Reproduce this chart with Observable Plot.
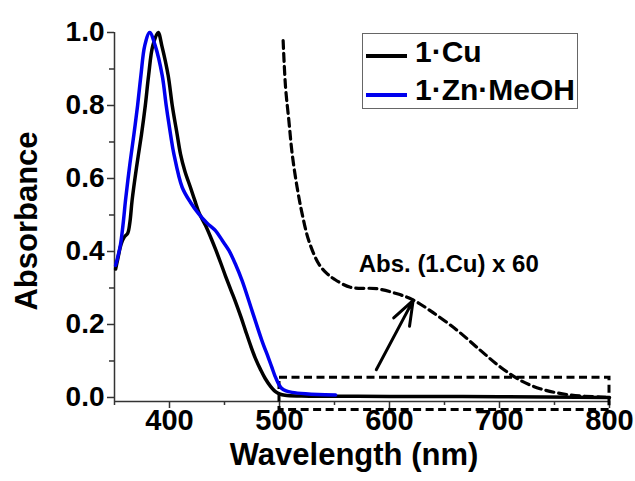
<!DOCTYPE html>
<html>
<head>
<meta charset="utf-8">
<script src="https://cdn.jsdelivr.net/npm/d3@7"></script>
<script src="https://cdn.jsdelivr.net/npm/@observablehq/plot@0.6"></script>
<style>
  html, body { margin: 0; padding: 0; background: #fff; }
  #chart { position: relative; width: 635px; height: 481px; font-family: "Liberation Sans", Arial, sans-serif; }
  #legend { position: absolute; left: 362px; top: 33px; width: 216px; height: 76px; border: 1px solid #666; box-sizing: border-box; }
  #legend .sw { position: absolute; left: 3px; width: 41px; height: 3.5px; }
  #legend .lb { position: absolute; left: 52px; font-size: 30px; font-weight: bold; line-height: 30px; white-space: nowrap; color: #000; }
</style>
</head>
<body>
<div id="chart"></div>
<script>
// ---- data ----
const cuWavelength = [351,353,356,359,362,364,366,370,374.5,378,381,384.8,389.7,393,398.8,402.5,407,410,414,419,423,427,433,438,442,447,451,456,460,465,469,474,478,483,487,492,496,500,505,520,600,700,800];
const cuAbs        = [0.352,0.38,0.42,0.44,0.45,0.48,0.54,0.63,0.72,0.80,0.882,0.964,1.0,0.964,0.882,0.80,0.72,0.667,0.62,0.576,0.54,0.505,0.47,0.435,0.405,0.365,0.332,0.293,0.262,0.22,0.184,0.14,0.108,0.075,0.052,0.03,0.017,0.01,0.006,0.004,0.003,0.002,0.0];

const znWavelength = [351,353,355.5,358,360,364,367.6,371,374,377.5,382,387,393.4,397,401,404,411.5,419,426.6,434,441.8,448,454,460,466,475,484,490,493,496,499,502,506,511.5,523.6,535,551];
const znAbs        = [0.362,0.385,0.42,0.48,0.54,0.64,0.72,0.80,0.882,0.964,1.0,0.964,0.882,0.80,0.72,0.667,0.576,0.535,0.503,0.478,0.457,0.43,0.403,0.365,0.32,0.238,0.156,0.108,0.083,0.058,0.038,0.025,0.018,0.014,0.01,0.008,0.007];

const cu60Wavelength = [503.3,505.5,508.5,511.5,516,520.6,526.6,535.7,543,549.4,564.5,588.8,607,621,637,661.5,682.7,701,719,737,761.5,791.8,800];
const cu60Abs        = [0.978,0.85,0.759,0.668,0.576,0.503,0.43,0.366,0.34,0.325,0.302,0.298,0.284,0.268,0.238,0.184,0.129,0.083,0.047,0.024,0.008,0.001,0.0];

const zoomBoxX = [500, 800];
const zoomBoxY = [-0.034, 0.054];
const arrowFrom = [588, 0.076];
const arrowTo = [621.5, 0.266];
const annotation = [{x: 572, y: 0.365, text: "Abs. (1.Cu) x 60"}];

const xDomain = [350, 800];
const yDomain = [-0.011, 1.0];
const xMajorTicks = [400, 500, 600, 700, 800];
const xMinorTicks = [350, 450, 550, 650, 750];
const yMajorTicks = [0, 0.2, 0.4, 0.6, 0.8, 1.0];
const yMinorTicks = [0.1, 0.3, 0.5, 0.7, 0.9];

const seriesNames = ["1·Cu", "1·Zn·MeOH"];
const seriesColors = ["#000000", "#0000ee"];
const xLabel = "Wavelength (nm)";
const yLabel = "Absorbance";

// ---- build ----
const cu = cuWavelength.map((x, i) => ({x, y: cuAbs[i]}));
const zn = znWavelength.map((x, i) => ({x, y: znAbs[i]}));
const cu60 = cu60Wavelength.map((x, i) => ({x, y: cu60Abs[i]}));

const font = "'Liberation Sans', Arial, sans-serif";
const axisColor = "#333";

const plot = Plot.plot({
  width: 635,
  height: 481,
  marginLeft: 114,
  marginRight: 26,
  marginTop: 32,
  marginBottom: 80,
  style: {fontFamily: font, background: "#fff", color: "#000"},
  x: {domain: xDomain},
  y: {domain: yDomain},
  marks: [
    Plot.axisX({ticks: xMajorTicks, tickSize: 7, tickPadding: 1, fontSize: 29, fontWeight: "bold", tickFormat: d3.format("d"), label: null, stroke: axisColor, strokeWidth: 1.5, fill: "#000"}),
    Plot.axisX({ticks: xMinorTicks, tickSize: 4, tickFormat: () => "", label: null, stroke: axisColor, strokeWidth: 1.5}),
    Plot.axisY({ticks: yMajorTicks, tickSize: 7, tickPadding: 3, fontSize: 28, fontWeight: "bold", tickFormat: d3.format(".1f"), label: null, stroke: axisColor, strokeWidth: 1.5, fill: "#000"}),
    Plot.axisY({ticks: yMinorTicks, tickSize: 5, tickFormat: () => "", label: null, stroke: axisColor, strokeWidth: 1.5}),
    Plot.ruleX([xDomain[0]], {stroke: axisColor, strokeWidth: 1.5}),
    Plot.ruleY([yDomain[0]], {stroke: axisColor, strokeWidth: 1.5}),
    Plot.rect([{x1: zoomBoxX[0], x2: zoomBoxX[1], y1: zoomBoxY[0], y2: zoomBoxY[1]}], {x1: "x1", x2: "x2", y1: "y1", y2: "y2", fill: "none", stroke: "#000", strokeWidth: 3, strokeDasharray: "8,4.5"}),
    Plot.line(cu60, {x: "x", y: "y", stroke: "#000", strokeWidth: 3.2, strokeDasharray: "8,5", curve: "catmull-rom"}),
    Plot.line(cu, {x: "x", y: "y", stroke: seriesColors[0], strokeWidth: 3.5, curve: "catmull-rom"}),
    Plot.line(zn, {x: "x", y: "y", stroke: seriesColors[1], strokeWidth: 3.5, curve: "catmull-rom"}),
    Plot.arrow([{x1: arrowFrom[0], y1: arrowFrom[1], x2: arrowTo[0], y2: arrowTo[1]}], {x1: "x1", y1: "y1", x2: "x2", y2: "y2", stroke: "#000", strokeWidth: 3, headLength: 16, headAngle: 40}),
    Plot.text(annotation, {x: "x", y: "y", text: "text", textAnchor: "start", lineAnchor: "middle", fontSize: 24, fontWeight: "bold", fill: "#000"}),
    Plot.text([yLabel], {frameAnchor: "left", textAnchor: "middle", lineAnchor: "middle", rotate: -90, dx: -87, dy: 4, fontSize: 31, fontWeight: "bold", fill: "#000"}),
    Plot.text([xLabel], {frameAnchor: "bottom", textAnchor: "middle", lineAnchor: "middle", dx: -8, dy: 54, fontSize: 31, fontWeight: "bold", fill: "#000"})
  ]
});

const chart = document.getElementById("chart");
chart.appendChild(plot);

// legend
const legend = document.createElement("div");
legend.id = "legend";
const rows = [{line: 21.25, text: 3.9}, {line: 60.25, text: 42.3}];
seriesNames.forEach((name, i) => {
  const sw = document.createElement("div");
  sw.className = "sw";
  sw.style.top = (rows[i].line - 1) + "px";
  sw.style.background = seriesColors[i];
  const lb = document.createElement("div");
  lb.className = "lb";
  lb.style.top = (rows[i].text - 1) + "px";
  lb.textContent = name;
  legend.appendChild(sw);
  legend.appendChild(lb);
});
chart.appendChild(legend);
</script>
</body>
</html>
